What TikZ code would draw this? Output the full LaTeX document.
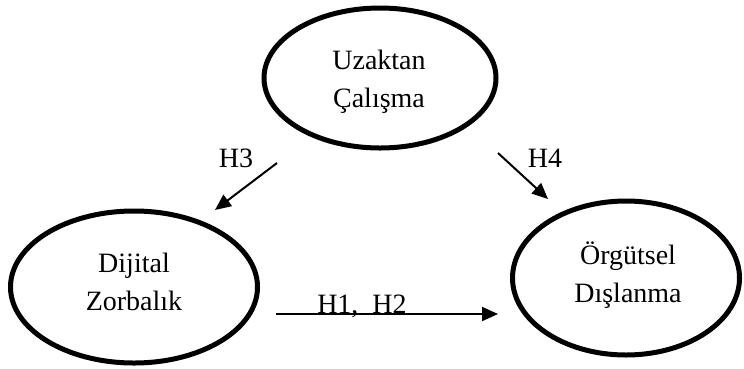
\documentclass[tikz,border=0pt]{standalone}
\usepackage{fontspec}
\setmainfont{Liberation Serif}
\usetikzlibrary{shapes.geometric,arrows.meta}
\begin{document}
\begin{tikzpicture}[x=1pt,y=-1pt,
  construct/.style={draw=black, line width=5pt, ellipse, inner sep=0pt, outer sep=0pt},
  label/.style={font=\fontsize{28}{38}\selectfont, align=center, anchor=base, inner sep=0pt},
  path/.style={draw=black, line width=2pt, -{Triangle[length=16pt,width=14pt]}}]
\path[use as bounding box] (0,0) rectangle (744,368);
% ellipses
\node[construct, minimum width=232pt, minimum height=140pt] (uz) at (380,78) {};
\node[construct, minimum width=247pt, minimum height=152pt] (dz) at (134,287) {};
\node[construct, minimum width=227pt, minimum height=154pt] (od) at (626,278) {};
% texts (anchor at baseline of the second line)
\node[label] (uzt) at (379,107) {Uzaktan\\Çalışma};
\node[label] (dzt) at (134,310) {Dijital\\Zorbalık};
\node[label] (odt) at (628,302) {Örgütsel\\Dışlanma};
% connectors
\coordinate (h3s) at (277,163);
\coordinate (h3e) at (215,210);
\coordinate (h4s) at (498,153);
\coordinate (h4e) at (548,199);
\coordinate (h1s) at (276,314);
\coordinate (h1e) at (498,314);
\draw[path] (h3s) -- (h3e);
\draw[path] (h4s) -- (h4e);
\draw[path] (h1s) -- (h1e);
% hypothesis labels
\node[label] (lh3) at (236,167) {H3};
\node[label] (lh4) at (545,167) {H4};
\node[label] (lh12) at (362,313) {H1,~~H2};
\end{tikzpicture}
\end{document}
